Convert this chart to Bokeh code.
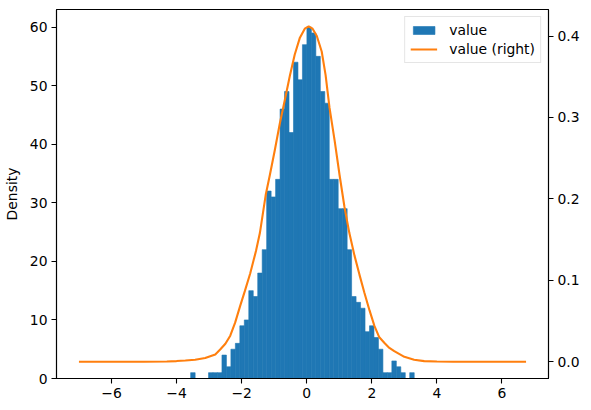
import numpy as np
from bokeh.plotting import figure
from bokeh.models import Range1d, LinearAxis, Legend, LegendItem, FixedTicker, ColumnDataSource
from bokeh.embed import file_html
from bokeh.resources import INLINE

# ---- data ----
hist_min = -3.567
hist_max = 3.303
counts = [1, 0, 0, 0, 1, 1, 1, 4, 2, 5,
          6, 9, 10, 15, 14, 18, 22, 32, 31, 34,
          46, 49, 42, 54, 51, 57, 60, 59, 55, 49,
          47, 34, 34, 29, 29, 22, 14, 13, 12, 8,
          9, 7, 5, 1, 1, 3, 2, 1, 0, 1]

kde_x = [-7.0, -5.0, -4.3, -4.0, -3.73, -3.43, -3.12, -2.81, -2.66, -2.50,
         -2.35, -2.20, -2.05, -1.90, -1.74, -1.56, -1.44, -1.26, -1.13, -0.98,
         -0.83, -0.67, -0.52, -0.37, -0.21, -0.06, 0.06, 0.18, 0.31, 0.46,
         0.58, 0.70, 0.86, 1.01, 1.16, 1.31, 1.47, 1.62, 1.77, 1.93,
         2.08, 2.23, 2.39, 2.54, 2.69, 3.00, 3.30, 3.61, 4.0, 4.5, 6.74]
kde_y = [0.0, 0.0, 0.0003, 0.0008, 0.0015, 0.0025, 0.0045, 0.009, 0.015, 0.022,
         0.032, 0.048, 0.068, 0.087, 0.108, 0.136, 0.158, 0.205, 0.230, 0.260,
         0.292, 0.322, 0.351, 0.377, 0.398, 0.409, 0.412, 0.409, 0.400, 0.381,
         0.352, 0.312, 0.271, 0.229, 0.190, 0.158, 0.130, 0.107, 0.085, 0.063,
         0.044, 0.030, 0.023, 0.017, 0.013, 0.006, 0.0025, 0.0007, 0.0002, 0.0, 0.0]

x_ticks = [-6, -4, -2, 0, 2, 4, 6]
left_ticks = [0, 10, 20, 30, 40, 50, 60]
right_ticks = [0.0, 0.1, 0.2, 0.3, 0.4]
y_label = "Density"
legend_labels = ["value", "value (right)"]

# ---- build ----
edges = np.linspace(hist_min, hist_max, len(counts) + 1)
hist_src = ColumnDataSource(dict(left=edges[:-1], right=edges[1:],
                                 top=counts, bottom=[0] * len(counts)))
kde_src = ColumnDataSource(dict(x=kde_x, y=kde_y))

FONT = "DejaVu Sans"
FS = "13.9px"

p = figure(width=582, height=402, output_backend="svg", toolbar_location=None,
           x_range=Range1d(-7.69, 7.43), y_range=Range1d(0, 63.0),
           min_border_left=53, min_border_right=31, min_border_top=9,
           min_border_bottom=24)
p.extra_y_ranges = {"right": Range1d(-0.0206, 0.4326)}
p.grid.visible = False
p.outline_line_color = "black"
p.outline_line_width = 1.1
p.background_fill_color = "white"
p.border_fill_color = "white"

bars = p.quad(left="left", right="right", top="top", bottom="bottom",
              source=hist_src, fill_color="#1f77b4", line_color="#1f77b4",
              line_width=0.6)
line = p.line(x="x", y="y", source=kde_src, y_range_name="right",
              line_color="#ff7f0e", line_width=2.1)

raxis = LinearAxis(y_range_name="right")
p.add_layout(raxis, "right")

minus = "\u2212"
for ax in [p.xaxis[0], p.yaxis[0], raxis]:
    ax.major_label_text_font = FONT
    ax.major_label_text_font_size = FS
    ax.major_label_text_color = "black"
    ax.axis_line_color = "black"
    ax.axis_line_width = 1.1
    ax.major_tick_line_color = "black"
    ax.major_tick_line_width = 1.1
    ax.major_tick_out = 5
    ax.major_tick_in = 0
    ax.minor_tick_line_color = None
    ax.major_label_standoff = 4

p.xaxis.ticker = FixedTicker(ticks=x_ticks)
p.xaxis.major_label_overrides = {t: (str(t) if t >= 0 else minus + str(-t)) for t in x_ticks}
p.yaxis[0].ticker = FixedTicker(ticks=left_ticks)
p.yaxis[0].axis_label = y_label
p.yaxis[0].axis_label_text_font = FONT
p.yaxis[0].axis_label_text_font_size = FS
p.yaxis[0].axis_label_text_font_style = "normal"
p.yaxis[0].axis_label_text_color = "black"
p.yaxis[0].axis_label_standoff = 7
raxis.ticker = FixedTicker(ticks=right_ticks)
raxis.major_label_overrides = {t: "%.1f" % t for t in right_ticks}

legend = Legend(items=[LegendItem(label=legend_labels[0], renderers=[bars]),
                       LegendItem(label=legend_labels[1], renderers=[line])],
                location="top_right")
legend.margin = 7
legend.padding = 5
legend.spacing = 3
legend.label_height = 16
legend.glyph_width = 27
legend.glyph_height = 10
legend.label_standoff = 12
legend.label_text_font = FONT
legend.label_text_font_size = FS
legend.label_text_color = "black"
legend.border_line_color = "#cccccc"
legend.border_line_width = 1
legend.background_fill_alpha = 0.8
p.add_layout(legend, "center")

open("out.html", "w").write(file_html(p, INLINE))
